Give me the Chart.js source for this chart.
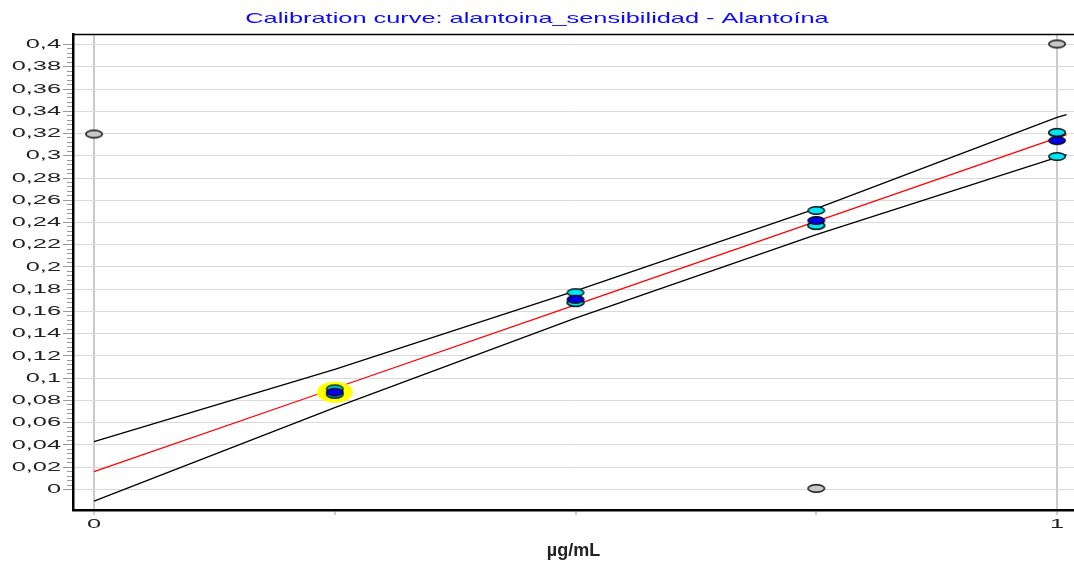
<!DOCTYPE html>
<html>
<head>
<meta charset="utf-8">
<title>Calibration curve</title>
<script src="https://cdn.jsdelivr.net/npm/chart.js@4.4.1/dist/chart.umd.min.js"></script>
<style>
  html, body { margin: 0; padding: 0; background: #ffffff; }
  #wrap { width: 1074px; height: 563px; }
  canvas { display: block; }
</style>
</head>
<body>
<div id="wrap"><canvas id="chart" width="1074" height="563"></canvas></div>
<script>
const chartTitle = 'Calibration curve: alantoina_sensibilidad - Alantoína';
const xAxisTitle = 'µg/mL';

// Replicate responses for each concentration level
const replicateX = [0.25, 0.25, 0.5, 0.5, 0.5, 0.75, 0.75, 0.75, 1, 1, 1];
const replicateY = [0.0905, 0.0855, 0.177, 0.168, 0.168, 0.2508, 0.2373, 0.2373, 0.3205, 0.2993, 0.321];

// Mean response per level
const meanX = [0.25, 0.5, 0.75, 1];
const meanY = [0.0875, 0.171, 0.2418, 0.3136];

// Points left out of the fit
const excludedX = [0, 1, 0.75];
const excludedY = [0.3195, 0.4005, 0.001];

// Selected level
const highlightX = [0.25];
const highlightY = [0.0875];

// Fitted line and its confidence limits
const fitX   = [0, 0.25, 0.5, 0.75, 1, 1.01];
const fitY   = [0.0160, 0.0910, 0.1660, 0.2410, 0.3160, 0.3190];
const upperY = [0.0430, 0.1080, 0.1785, 0.2525, 0.3345, 0.3370];
const lowerY = [-0.0105, 0.0735, 0.1540, 0.2290, 0.2985, 0.3010];

// Axis ticks
const xTickValues = [0, 0.25, 0.5, 0.75, 1];
const xTickLabels = ['0', '', '', '', '1'];
const yTickLabels = ['0', '0,02', '0,04', '0,06', '0,08', '0,1', '0,12', '0,14', '0,16', '0,18', '0,2',
                     '0,22', '0,24', '0,26', '0,28', '0,3', '0,32', '0,34', '0,36', '0,38', '0,4'];

const pts = (xs, ys) => xs.map((x, i) => ({ x: x, y: ys[i] }));

// Elliptical marker images
function ellipseMarker(w, h, fill, stroke, lw) {
  const c = document.createElement('canvas');
  c.width = w + 2; c.height = h + 2;
  const g = c.getContext('2d');
  g.beginPath();
  g.ellipse(c.width / 2, c.height / 2, w / 2 - lw / 2, h / 2 - lw / 2, 0, 0, Math.PI * 2);
  g.fillStyle = fill;
  g.fill();
  if (lw > 0) { g.lineWidth = lw; g.strokeStyle = stroke; g.stroke(); }
  return c;
}
const cyanMarker = ellipseMarker(18, 9, '#00e6f2', '#0a1a1a', 1.5);
const blueMarker = ellipseMarker(18, 9, '#0000f0', '#0a0a1a', 1.5);
const greyMarker = ellipseMarker(18, 9, '#c8c8c8', '#111111', 1.5);
const yellowMarker = ellipseMarker(36, 21, '#ffff00', '#ffff00', 0);

// Wide lettering for the title and tick labels
const canvas = document.getElementById('chart');
const ctx2d = canvas.getContext('2d');
const baseFillText = ctx2d.fillText;
const stretchBySize = { 13: 1.95, 15: 1.69 };
ctx2d.fillText = function (text, x, y, maxWidth) {
  const m = /(\d+(?:\.\d+)?)px/.exec(this.font);
  const sx = m ? (stretchBySize[Math.round(parseFloat(m[1]))] || 1) : 1;
  if (sx === 1) {
    return maxWidth === undefined ? baseFillText.call(this, text, x, y) : baseFillText.call(this, text, x, y, maxWidth);
  }
  this.save();
  this.translate(x, y);
  this.scale(sx, 1);
  baseFillText.call(this, text, 0, 0);
  this.restore();
};

// Top frame line of the plot area
const frameTop = {
  id: 'frameTop',
  afterDraw(chart) {
    const { ctx, chartArea } = chart;
    ctx.save();
    ctx.strokeStyle = '#000000';
    ctx.lineWidth = 1.5;
    ctx.beginPath();
    ctx.moveTo(chartArea.left, chartArea.top + 0.5);
    ctx.lineTo(chartArea.right, chartArea.top + 0.5);
    ctx.stroke();
    ctx.restore();
  }
};

const tickFont = { family: '"Liberation Sans", Arial, sans-serif', size: 13, weight: 'normal' };

new Chart(ctx2d, {
  type: 'scatter',
  data: {
    datasets: [
      { label: 'upper', data: pts(fitX, upperY), showLine: true, borderColor: '#000000', borderWidth: 1.3,
        pointRadius: 0, order: 6 },
      { label: 'lower', data: pts(fitX, lowerY), showLine: true, borderColor: '#000000', borderWidth: 1.3,
        pointRadius: 0, order: 5 },
      { label: 'fit', data: pts(fitX, fitY), showLine: true, borderColor: '#ff0000', borderWidth: 1.3,
        pointRadius: 0, order: 4 },
      { label: 'selected', data: pts(highlightX, highlightY), pointStyle: yellowMarker, order: 3 },
      { label: 'replicates', data: pts(replicateX, replicateY), pointStyle: cyanMarker, order: 2 },
      { label: 'means', data: pts(meanX, meanY), pointStyle: blueMarker, order: 1 },
      { label: 'excluded', data: pts(excludedX, excludedY), pointStyle: greyMarker, order: 0 }
    ]
  },
  options: {
    responsive: false,
    devicePixelRatio: 1,
    animation: false,
    events: [],
    layout: { padding: 0, autoPadding: false },
    plugins: {
      legend: { display: false },
      tooltip: { enabled: false },
      title: {
        display: true,
        text: chartTitle,
        color: '#0a0aff',
        font: { family: '"Liberation Sans", Arial, sans-serif', size: 15, weight: 'normal' },
        padding: { top: 10, bottom: 6 }
      }
    },
    scales: {
      x: {
        type: 'linear',
        position: 'bottom',
        min: -0.02181,
        max: 1.01765,
        bounds: 'data',
        afterBuildTicks(scale) { scale.ticks = xTickValues.map(v => ({ value: v })); },
        afterFit(scale) {
          scale.height = 53;
          scale.paddingLeft = 0;
          scale.paddingRight = 0;
        },
        ticks: {
          autoSkip: false,
          maxRotation: 0,
          padding: 2,
          color: '#222222',
          font: tickFont,
          callback: (v, i) => xTickLabels[i]
        },
        grid: {
          drawOnChartArea: true,
          color: c => (c.tick && (c.tick.value === 0 || c.tick.value === 1)) ? '#cacaca' : 'rgba(0,0,0,0)',
          lineWidth: c => (c.tick && (c.tick.value === 0 || c.tick.value === 1)) ? 2 : 0,
          tickColor: '#9a9a9a',
          tickLength: 5,
          tickWidth: 1
        },
        border: { color: '#000000', width: 2.5 },
        title: {
          display: true,
          text: xAxisTitle,
          color: '#222222',
          font: { family: '"Liberation Sans", Arial, sans-serif', size: 18, weight: 'bold' },
          padding: { top: 0, bottom: 1 }
        }
      },
      y: {
        type: 'linear',
        position: 'left',
        min: -0.01843,
        max: 0.40944,
        bounds: 'data',
        afterBuildTicks(scale) {
          const t = [];
          for (let i = 0; i <= 100; i++) t.push({ value: i / 250 });
          scale.ticks = t;
        },
        afterFit(scale) {
          scale.width = 73;
          scale.paddingTop = 0;
          scale.paddingBottom = 0;
        },
        ticks: {
          autoSkip: false,
          padding: 2,
          color: '#222222',
          font: tickFont,
          callback: (v, i) => (i % 5 === 0 ? yTickLabels[i / 5] : '')
        },
        grid: {
          color: c => (c.index % 5 === 0 ? '#dadada' : 'rgba(0,0,0,0)'),
          lineWidth: 1,
          tickColor: '#9a9a9a',
          tickLength: 10,
          tickWidth: 1,
          tickBorderDash: c => (c.index % 5 === 0 ? [] : [0, 4, 20]),
          tickBorderDashOffset: 0
        },
        border: { color: '#000000', width: 2.5 }
      }
    }
  },
  plugins: [frameTop]
});
</script>
</body>
</html>
